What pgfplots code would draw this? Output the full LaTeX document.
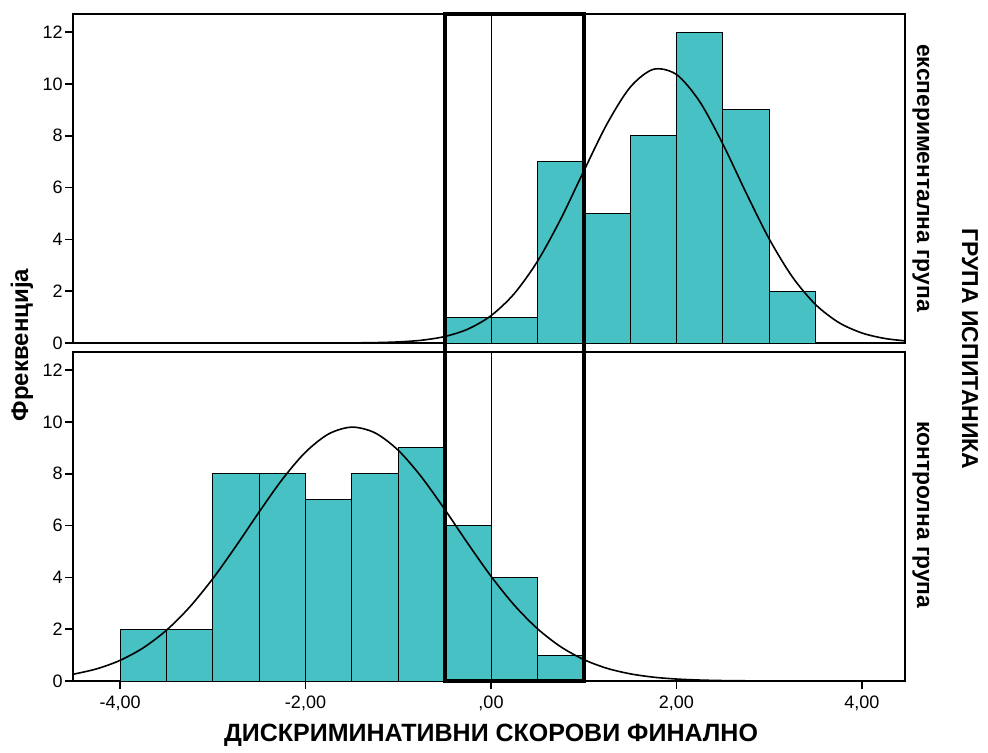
\documentclass[border=0pt]{standalone}
\usepackage{fontspec}
\setmainfont{Liberation Sans}
\usepackage{pgfplots}
\pgfplotsset{compat=1.18}
\definecolor{barfill}{RGB}{71,193,196}
\begin{document}
\begin{tikzpicture}
\path (0,0) rectangle (494pt,373.5pt);
\pgfplotsset{
 panel/.style={
  scale only axis, width=416pt, height=164.5pt,
  xmin=-4.507, xmax=4.464, ymin=0, ymax=12.7,
  ytick={0,2,...,12},
  tick align=outside, major tick length=4pt,
  tick style={black, line width=0.8pt},
  axis line style={line width=0.7pt},
  yticklabel style={font=\fontsize{9}{10}\selectfont, inner sep=1pt},
  xticklabel style={font=\fontsize{9}{10}\selectfont},
  /pgf/number format/assume math mode=true,
  ytick pos=left,
  xtick pos=bottom,
 }
}
\begin{axis}[panel, at={(36.5pt,202pt)}, anchor=south west, xtick=\empty]
\addplot[ybar interval, fill=barfill, draw=black, line width=0.5pt] coordinates {(-0.5,1) (0,1) (0.5,7) (1,5) (1.5,8) (2,12) (2.5,9) (3,2) (3.5,2)};
\addplot[smooth, black, line width=0.8pt, no marks] coordinates {
(-4.5,0) (-3.5,0) (-2.5,0) (-2,0.0004) (-1.75,0.0015) (-1.5,0.005) (-1.25,0.015) (-1,0.042)
(-0.75,0.106) (-0.5,0.249) (-0.25,0.535) (0,1.054) (0.25,1.902) (0.5,3.148) (0.75,4.772)
(1,6.634) (1.25,8.452) (1.5,9.870) (1.75,10.564) (2,10.364) (2.25,9.319)
(2.5,7.680) (2.75,5.801) (3,4.016) (3.25,2.548) (3.5,1.483) (3.75,0.790) (4,0.386)
(4.25,0.173) (4.5,0.071)};
\draw[black, line width=0.5pt] (axis cs:0,0) -- (axis cs:0,12.7);
\coordinate (tr) at (axis cs:1,12.7);
\end{axis}
\begin{axis}[panel, at={(36.5pt,33pt)}, anchor=south west,
  xtick={-4,-2,0,2,4}, xticklabels={{-4,00},{-2,00},{,00},{2,00},{4,00}}]
\addplot[ybar interval, fill=barfill, draw=black, line width=0.5pt] coordinates {(-4,2) (-3.5,2) (-3,8) (-2.5,8) (-2,7) (-1.5,8) (-1,9) (-0.5,6) (0,4) (0.5,1) (1,1)};
\addplot[smooth, black, line width=0.8pt, no marks] coordinates {
(-4.5,0.265) (-4.25,0.471) (-4,0.796) (-3.75,1.280) (-3.5,1.958) (-3.25,2.851) (-3,3.950)
(-2.75,5.205) (-2.5,6.526) (-2.25,7.785) (-2,8.835) (-1.75,9.539) (-1.5,9.8) (-1.25,9.578)
(-1,8.905) (-0.75,7.878) (-0.5,6.631) (-0.25,5.310) (0,4.045) (0.25,2.931) (0.5,2.022)
(0.75,1.326) (1,0.828) (1.25,0.491) (1.5,0.278) (1.75,0.149) (2,0.076) (2.25,0.037)
(2.5,0.017) (2.75,0.008) (3,0.003) (3.5,0) (4,0) (4.5,0)};
\draw[black, line width=0.5pt] (axis cs:0,0) -- (axis cs:0,12.7);
\coordinate (bl) at (axis cs:-0.5,0);
\end{axis}
\draw[black, line width=2pt] (bl) rectangle (tr);
\node[rotate=90, font=\bfseries\fontsize{12}{14}\selectfont] at (11pt,201pt) {Фреквенција};
\node[font=\bfseries\fontsize{12.5}{14}\selectfont] at (245.5pt,6pt) {ДИСКРИМИНАТИВНИ СКОРОВИ ФИНАЛНО};
\node[rotate=-90, font=\bfseries\fontsize{11.4}{14}\selectfont] at (460.5pt,284.5pt) {експериментална група};
\node[rotate=-90, font=\bfseries\fontsize{11.4}{14}\selectfont] at (460.5pt,116pt) {контролна група};
\node[rotate=-90, font=\bfseries\fontsize{11.5}{14}\selectfont] at (485pt,199pt) {ГРУПА ИСПИТАНИКА};
\end{tikzpicture}
\end{document}
